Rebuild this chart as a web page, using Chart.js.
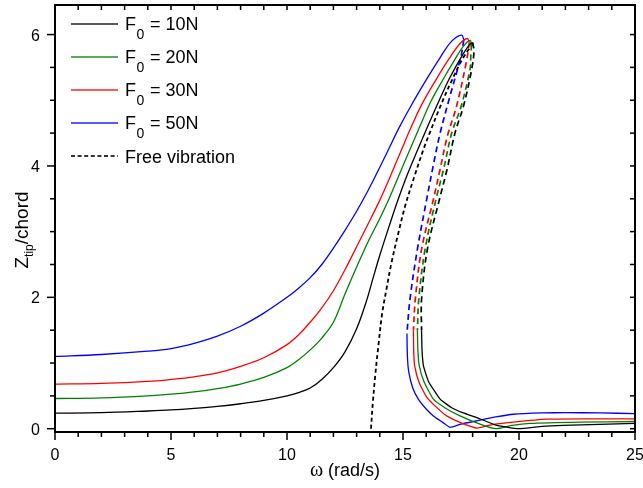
<!DOCTYPE html>
<html lang="en">
<head>
    <meta charset="UTF-8">
    <title>Tip amplitude vs forcing frequency</title>
    <script src="https://cdn.jsdelivr.net/npm/chart.js"></script>
    <style>
        body { margin: 0; background: #fff; overflow: hidden; }
        #wrap { width: 643px; height: 488px; }
    </style>
</head>
<body>
<div id="wrap"><canvas id="chart"></canvas></div>
<script>
    // [omega (rad/s), Ztip/chord]
    // F0 = 10N
    const f10Upper = [[0,0.236],[2,0.245],[4,0.27],[5,0.286],[6,0.31],[7,0.34],[8,0.38],[9,0.43],[10,0.5],[10.5,0.55],[11,0.62],[11.5,0.75],[12,0.93],[12.5,1.17],[13,1.52],[13.43,1.95],[13.7,2.28],[14.0,2.64],[14.4,3.08],[14.8,3.5],[15.2,3.88],[15.6,4.22],[16.0,4.55],[16.5,4.95],[17.0,5.33],[17.5,5.65],[17.85,5.84],[18.0,5.88]];
    const f10Unstable = [[18.0,5.88],[18.06,5.75],[17.95,5.45],[17.6,4.9],[17.24,4.5],[16.9,3.95],[16.57,3.49],[16.05,2.73],[15.8,1.97],[15.8,1.5]];
    const f10Lower = [[15.8,1.5],[15.82,1.2],[15.88,0.96],[16.1,0.72],[16.6,0.45],[17.1,0.32],[17.6,0.24],[18.18,0.17],[18.97,0.06],[19.97,0.0],[21,0.035],[21.9,0.05],[25,0.08]];
    // F0 = 20N
    const f20Upper = [[0,0.46],[2,0.47],[4,0.5],[5,0.525],[6,0.56],[7,0.61],[8,0.68],[9,0.78],[10,0.93],[10.5,1.05],[11,1.2],[11.5,1.38],[12,1.62],[12.5,2.05],[13.0,2.46],[13.5,2.85],[14.0,3.2],[14.4,3.5],[14.9,3.92],[15.3,4.25],[15.7,4.58],[16.2,4.98],[16.7,5.3],[17.2,5.6],[17.6,5.82],[17.89,5.91],[17.95,5.85]];
    const f20Unstable = [[17.95,5.85],[17.92,5.65],[17.89,5.47],[17.5,4.9],[17.1,4.5],[16.75,3.95],[16.42,3.49],[15.95,2.73],[15.68,1.97],[15.62,1.5]];
    const f20Lower = [[15.62,1.5],[15.64,1.2],[15.7,0.96],[15.9,0.72],[16.31,0.45],[16.8,0.32],[17.46,0.195],[18.32,0.07],[19.0,0.0],[19.7,0.05],[20.47,0.08],[22.6,0.1],[25,0.11]];
    // F0 = 30N
    const f30Upper = [[0,0.68],[2,0.69],[4,0.72],[5,0.75],[6,0.79],[7,0.85],[8,0.95],[9,1.08],[10,1.28],[10.5,1.43],[11,1.62],[11.5,1.84],[12,2.1],[12.5,2.42],[13.0,2.77],[13.5,3.12],[14.0,3.48],[14.5,3.88],[14.94,4.25],[15.3,4.55],[15.8,4.93],[16.4,5.3],[17.0,5.64],[17.45,5.86],[17.77,5.94],[17.86,5.88]];
    const f30Unstable = [[17.86,5.88],[17.74,5.6],[17.31,4.91],[16.91,4.45],[16.6,3.95],[16.31,3.49],[15.8,2.73],[15.53,1.97],[15.45,1.5]];
    const f30Lower = [[15.45,1.5],[15.46,1.2],[15.5,0.96],[15.7,0.7],[16.02,0.48],[16.4,0.34],[16.88,0.195],[17.5,0.09],[18.2,0.01],[18.8,0.06],[19.76,0.1],[21.19,0.145],[23,0.15],[25,0.15]];
    // F0 = 50N
    const f50Upper = [[0,1.1],[2,1.13],[4,1.18],[5,1.22],[6,1.3],[7,1.41],[8,1.56],[9,1.76],[10,2.0],[10.5,2.14],[11,2.3],[11.5,2.5],[12,2.75],[12.5,3.02],[13.0,3.31],[13.5,3.63],[14.0,3.98],[14.4,4.27],[14.8,4.56],[15.4,4.95],[16.0,5.31],[16.6,5.65],[17.1,5.9],[17.53,5.99],[17.62,5.92]];
    const f50Unstable = [[17.62,5.92],[17.5,5.67],[17.03,5.07],[16.6,4.5],[16.3,4.0],[16.02,3.49],[15.62,2.73],[15.3,1.97],[15.17,1.45]];
    const f50Lower = [[15.17,1.45],[15.19,1.1],[15.25,0.86],[15.42,0.62],[15.66,0.45],[16.0,0.3],[16.31,0.195],[16.7,0.1],[17.03,0.02],[17.5,0.07],[18.32,0.13],[19.0,0.18],[19.76,0.22],[21,0.24],[22,0.245],[23.5,0.24],[25,0.23]];
    // free vibration backbone
    const freeVib = [[13.62,0],[13.7,0.4],[13.8,0.8],[13.95,1.3],[14.1,1.75],[14.3,2.15],[14.5,2.52],[14.8,2.98],[15.1,3.4],[15.5,3.85],[15.9,4.27],[16.15,4.5],[16.6,4.9],[17.1,5.3],[17.6,5.65],[18.05,5.88]];

    const forceLabels = ['10N', '20N', '30N', '50N'];
    const forceColors = ['#000000', '#008000', '#ff0000', '#0000ff'];
    const xTicks = [0, 5, 10, 15, 20, 25];
    const yTicks = [0, 2, 4, 6];

    const pts = a => a.map(([x, y]) => ({ x, y }));

    const branches = [
        [f10Upper, f10Unstable, f10Lower],
        [f20Upper, f20Unstable, f20Lower],
        [f30Upper, f30Unstable, f30Lower],
        [f50Upper, f50Unstable, f50Lower]
    ];

    const datasets = [];
    branches.forEach((b, i) => {
        const c = forceColors[i];
        datasets.push({ label: 'F0 = ' + forceLabels[i], data: pts(b[0]), borderColor: c, borderWidth: 1.3 });
        datasets.push({ label: 'unstable ' + forceLabels[i], data: pts(b[1]), borderColor: c, borderWidth: 1.7, borderDash: [6, 4] });
        datasets.push({ label: 'lower ' + forceLabels[i], data: pts(b[2]), borderColor: c, borderWidth: 1.3, tension: 0.15 });
    });
    datasets.push({ label: 'Free vibration', data: pts(freeVib), borderColor: '#000', borderWidth: 1.8, borderDash: [4, 3] });

    const font = 'Liberation Sans, Arial, sans-serif';

    const decor = {
        id: 'decor',
        afterDraw(chart) {
            const ctx = chart.ctx;
            const a = chart.chartArea;
            const sx = chart.scales.x, sy = chart.scales.y;
            ctx.save();
            ctx.setLineDash([]);
            ctx.fillStyle = '#000';

            // frame
            ctx.fillRect(a.left - 1, a.top - 1, a.width + 2, 2);
            ctx.fillRect(a.left - 1, a.bottom - 1, a.width + 2, 2);
            ctx.fillRect(a.left - 1, a.top - 1, 2, a.height + 2);
            ctx.fillRect(a.right - 1, a.top - 1, 2, a.height + 2);

            // ticks: out on left/bottom, in on top/right
            for (let v = 0; v <= 25; v++) {
                const px = sx.getPixelForValue(v);
                const len = v % 5 === 0 ? 8 : 5;
                ctx.fillRect(px - 0.75, a.bottom, 1.5, len);
                ctx.fillRect(px - 0.75, a.top, 1.5, 5);
            }
            for (let v = 0; v <= 6; v += 0.5) {
                const py = sy.getPixelForValue(v);
                const len = v % 2 === 0 ? 8 : 5;
                ctx.fillRect(a.left - len, py - 0.75, len, 1.5);
                ctx.fillRect(a.right - 5, py - 0.75, 5, 1.5);
            }

            // tick labels
            ctx.font = '16px ' + font;
            ctx.textAlign = 'center';
            ctx.textBaseline = 'alphabetic';
            xTicks.forEach(v => ctx.fillText(String(v), sx.getPixelForValue(v), a.bottom + 28));
            ctx.textAlign = 'right';
            yTicks.forEach(v => ctx.fillText(String(v), a.left - 15, sy.getPixelForValue(v) + 6));

            // legend with subscripts
            const rows = [24, 57, 90, 123, 156];
            ctx.textAlign = 'left';
            forceLabels.forEach((lab, i) => {
                const ry = rows[i];
                ctx.fillStyle = forceColors[i];
                ctx.fillRect(71, ry - 0.65, 47, 1.3);
                ctx.fillStyle = '#000';
                ctx.font = '18px ' + font;
                ctx.fillText('F', 125, ry + 6);
                ctx.font = '14px ' + font;
                ctx.fillText('0', 136.5, ry + 15);
                ctx.font = '18px ' + font;
                ctx.fillText(' = ' + lab, 145, ry + 6);
            });
            for (let dx = 71; dx < 118; dx += 6.6) {
                ctx.fillRect(dx, rows[4] - 0.8, Math.min(4, 118 - dx), 1.6);
            }
            ctx.font = '18px ' + font;
            ctx.fillText('Free vibration', 125, rows[4] + 6.5);

            // x title
            ctx.font = '20px Liberation Serif, Times New Roman, serif';
            const w1 = ctx.measureText('\u03c9').width;
            ctx.font = '18px ' + font;
            const w2 = ctx.measureText(' (rad/s)').width;
            const tx0 = (a.left + a.right) / 2 - (w1 + w2) / 2;
            ctx.font = '20px Liberation Serif, Times New Roman, serif';
            ctx.fillText('\u03c9', tx0, 476);
            ctx.font = '18px ' + font;
            ctx.fillText(' (rad/s)', tx0 + w1, 476);

            // y title, rotated
            ctx.translate(27.5, 230);
            ctx.rotate(-Math.PI / 2);
            ctx.font = '19px ' + font;
            const wz = ctx.measureText('Z').width;
            const wc = ctx.measureText('/chord').width;
            ctx.font = '12px ' + font;
            const wt = ctx.measureText('tip').width;
            const ty0 = -(wz + wt + wc) / 2;
            ctx.font = '19px ' + font;
            ctx.fillText('Z', ty0, 0);
            ctx.font = '12px ' + font;
            ctx.fillText('tip', ty0 + wz, 5);
            ctx.font = '19px ' + font;
            ctx.fillText('/chord', ty0 + wz + wt, 0);
            ctx.restore();
        }
    };

    new Chart(document.getElementById('chart'), {
        type: 'scatter',
        data: { datasets },
        options: {
            responsive: true,
            maintainAspectRatio: false,
            animation: false,
            showLine: true,
            elements: {
                point: { radius: 0, hoverRadius: 0 },
                line: { tension: 0.35, fill: false }
            },
            layout: { padding: { left: 0, right: 8, top: 5, bottom: 0 } },
            plugins: {
                legend: { display: false },
                tooltip: { enabled: false }
            },
            scales: {
                x: {
                    type: 'linear',
                    min: 0,
                    max: 25,
                    grid: { display: false, drawTicks: false },
                    border: { display: false },
                    ticks: { display: false },
                    afterFit: s => { s.height = 56; }
                },
                y: {
                    type: 'linear',
                    min: -0.05,
                    max: 6.45,
                    grid: { display: false, drawTicks: false },
                    border: { display: false },
                    ticks: { display: false },
                    afterFit: s => { s.width = 55; }
                }
            }
        },
        plugins: [decor]
    });
</script>
</body>
</html>
